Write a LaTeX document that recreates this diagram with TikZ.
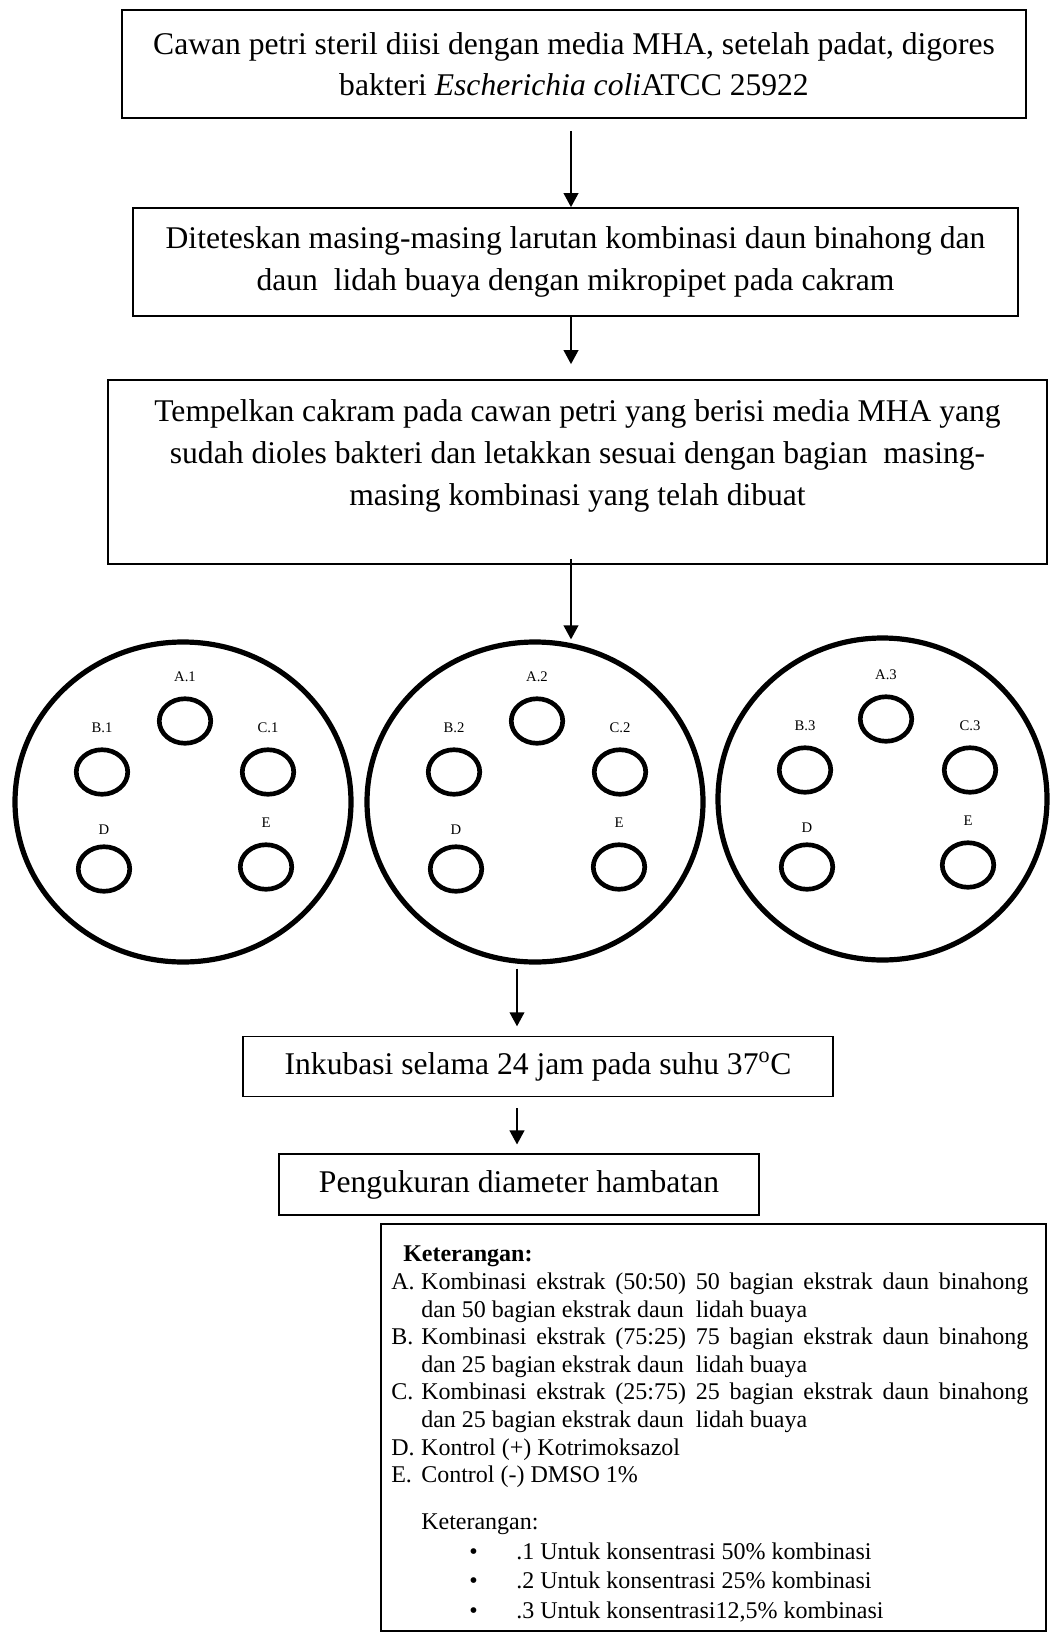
\documentclass[tikz,border=0pt]{standalone}
\usepackage{fontspec}
\setmainfont{Liberation Serif}
\usetikzlibrary{arrows.meta}
\usetikzlibrary{shapes.geometric}
\usetikzlibrary{positioning}
\tikzstyle{frame}=[draw, line width=1.3pt, inner sep=0pt]
\tikzstyle{stepbox}=[frame, align=center, font=\fontsize{23.7pt}{31pt}\selectfont]
\tikzstyle{plate}=[draw, ellipse, line width=3.9pt, inner sep=0pt]
\tikzstyle{disc}=[draw, ellipse, line width=3.5pt, inner sep=0pt, minimum width=38.6pt, minimum height=33.4pt]
\tikzstyle{flow}=[-{Triangle[length=10.5pt, width=11pt]}, line width=1.4pt]
\tikzstyle{notes}=[anchor=north west, inner sep=0pt, text width=477.75pt, align=justify, font=\fontsize{18pt}{20.7pt}\selectfont]

\begin{document}
\begin{tikzpicture}[x=0.75pt, y=-0.75pt, label distance=11pt, every label/.style={inner sep=0pt, font=\fontsize{11pt}{13pt}\selectfont}]
      \useasboundingbox (0, 0) rectangle (1049, 1633);

      \node[stepbox, minimum width=678pt, minimum height=81pt] (step1) at (574, 64)
        {Cawan petri steril diisi dengan media MHA, setelah padat, digores\\
         bakteri \textit{Escherichia coli}ATCC 25922};
      \node[stepbox, minimum width=663.75pt, minimum height=81pt] (step2) at (575.5, 262)
        {Diteteskan masing-masing larutan kombinasi daun binahong dan\\
         daun\ \ lidah buaya dengan mikropipet pada cakram};
      \node[stepbox, minimum width=704.25pt, minimum height=138pt] (step3) at (577.5, 472)
        {Tempelkan cakram pada cawan petri yang berisi media MHA yang\\[0.4pt]
         sudah dioles bakteri dan letakkan sesuai dengan bagian\ \ masing-\\[0.4pt]
         masing kombinasi yang telah dibuat\\[-11pt] \strut};

      \node[plate, minimum width=252pt, minimum height=240pt] (p1) at (183, 802) {};
      \node[disc, label=above:A.1] (p1a) at (185, 721) {};
      \node[disc, label=above:B.1] (p1b) at (102, 772) {};
      \node[disc, label=above:C.1] (p1c) at (268, 772) {};
      \node[disc, label={[label distance=7.5pt]above:D}] (p1d) at (104, 869) {};
      \node[disc, label=above:E] (p1e) at (266, 867) {};

      \node[plate, minimum width=252pt, minimum height=240pt] (p2) at (535, 802) {};
      \node[disc, label=above:A.2] (p2a) at (537, 721) {};
      \node[disc, label=above:B.2] (p2b) at (454, 772) {};
      \node[disc, label=above:C.2] (p2c) at (620, 772) {};
      \node[disc, label={[label distance=7.5pt]above:D}] (p2d) at (456, 869) {};
      \node[disc, label=above:E] (p2e) at (619, 867) {};

      \node[plate, minimum width=246.75pt, minimum height=241.5pt] (p3) at (882.5, 799) {};
      \node[disc, label=above:A.3] (p3a) at (886, 719) {};
      \node[disc, label=above:B.3] (p3b) at (805, 770) {};
      \node[disc, label=above:C.3] (p3c) at (970, 770) {};
      \node[disc, label={[label distance=7.5pt]above:D}] (p3d) at (807, 867) {};
      \node[disc, label=above:E] (p3e) at (968, 865) {};

      \node[stepbox, minimum width=442.5pt, minimum height=45pt] (step4) at (538, 1066.5)
        {Inkubasi selama 24 jam pada suhu 37\textsuperscript{o}C};
      \node[stepbox, minimum width=360pt, minimum height=45.75pt] (step5) at (519, 1184.5)
        {Pengukuran diameter hambatan};

      \coordinate (spine) at (571, 0);
      \coordinate (drop) at (517, 0);

      \draw[flow, shorten <=9pt] (step1.south -| spine) -- (step2.north -| spine);
      \draw[flow, shorten >=11.25pt] (step2.south -| spine) -- (step3.north -| spine);
      \draw[flow, shorten <=-4.5pt] (step3.south -| spine) -- (p2.north -| spine);
      \draw[flow, shorten <=3pt, shorten >=7pt] (p2.south -| drop) -- (step4.north -| drop);
      \draw[flow, shorten <=8pt, shorten >=6.5pt] (step4.south -| drop) -- (step5.north -| drop);

      \node[frame, minimum width=498.75pt, minimum height=305.25pt] (legend) at (713.5, 1427.5) {};
      \node[notes] (notes) at (391, 1246) {%
        \parindent=0pt
        \hspace*{9pt}\textbf{Keterangan:}\par
        \hangindent=22.5pt\hangafter=1
        \makebox[22.5pt][l]{A.}Kombinasi ekstrak (50:50) 50 bagian ekstrak daun binahong\linebreak
        dan 50 bagian ekstrak daun\ \ lidah buaya\par
        \hangindent=22.5pt\hangafter=1
        \makebox[22.5pt][l]{B.}Kombinasi ekstrak (75:25) 75 bagian ekstrak daun binahong\linebreak
        dan 25 bagian ekstrak daun\ \ lidah buaya\par
        \hangindent=22.5pt\hangafter=1
        \makebox[22.5pt][l]{C.}Kombinasi ekstrak (25:75) 25 bagian ekstrak daun binahong\linebreak
        dan 25 bagian ekstrak daun\ \ lidah buaya\par
        \makebox[22.5pt][l]{D.}Kontrol (+) Kotrimoksazol\par
        \makebox[22.5pt][l]{E.}Control (-) DMSO 1\%\par
        \vspace{14.5pt}
        \hspace*{22.5pt}Keterangan:\par
        \baselineskip=22.2pt
        \hspace*{58.5pt}\makebox[35.25pt][l]{\textbullet}.1 Untuk konsentrasi 50\% kombinasi\par
        \hspace*{58.5pt}\makebox[35.25pt][l]{\textbullet}.2 Untuk konsentrasi 25\% kombinasi\par
        \hspace*{58.5pt}\makebox[35.25pt][l]{\textbullet}.3 Untuk konsentrasi12,5\% kombinasi\par};
    \end{tikzpicture}
\end{document}
